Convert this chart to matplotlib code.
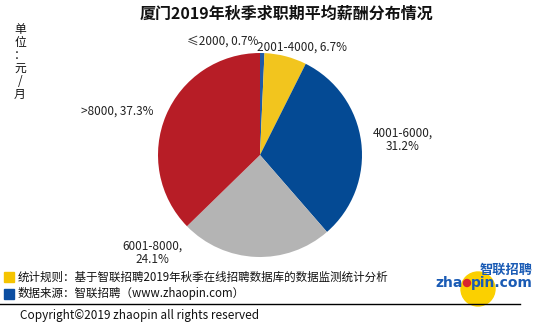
import matplotlib
matplotlib.use("Agg")
import matplotlib.pyplot as plt
from matplotlib.patches import Circle, Rectangle
from matplotlib.lines import Line2D

plt.rcParams["font.family"] = ["Noto Sans CJK SC", "DejaVu Sans"]

categories = ["≤2000", "2001-4000", "4001-6000", "6001-8000", ">8000"]
shares = [0.7, 6.7, 31.2, 24.1, 37.3]
colors = ["#1f5aa6", "#f2c51e", "#044a94", "#b4b4b4", "#b71d26"]
label_texts = ["≤2000, 0.7%", "2001-4000, 6.7%", "4001-6000,\n31.2%",
               "6001-8000,\n24.1%", ">8000, 37.3%"]
# label centres in pie radius units
label_pos = [(-0.37, 1.12), (0.41, 1.06), (1.40, 0.15), (-1.05, -0.96), (-1.40, 0.43)]

title = "厦门2019年秋季求职期平均薪酬分布情况"
note1 = "统计规则：基于智联招聘2019年秋季在线招聘数据库的数据监测统计分析"
note2 = "数据来源：智联招聘（www.zhaopin.com）"
copyright_text = "Copyright©2019 zhaopin all rights reserved"

W, H = 540, 336
fig = plt.figure(figsize=(W / 100, H / 100), dpi=100)

# pie: centre (260,155) px, radius 102 px
cx, cy, r = 260, 155, 102
ax = fig.add_axes([(cx - r) / W, (H - cy - r) / H, 2 * r / W, 2 * r / H])
ax.pie(shares, colors=colors, startangle=90, counterclock=False,
       wedgeprops=dict(linewidth=0))
ax.set_xlim(-1, 1)
ax.set_ylim(-1, 1)
ax.set_aspect("equal")
for txt, (x, y) in zip(label_texts, label_pos):
    ax.text(x, y, txt, ha="center", va="center", fontsize=8.5,
            color="#222222", linespacing=1.1)

# overlay axes in pixel coordinates
ov = fig.add_axes([0, 0, 1, 1])
ov.set_xlim(0, W)
ov.set_ylim(H, 0)
ov.axis("off")
ov.patch.set_alpha(0)

ov.text(286, 14, title, ha="center", va="center", fontsize=11.5,
        fontweight="bold", color="#111111")
ov.text(20, 62, "单\n位\n：\n元\n/\n月", ha="center", va="center",
        fontsize=8.5, linespacing=1.0, color="#111111")

ov.add_patch(Rectangle((4, 272), 10, 10, color="#f5c400"))
ov.add_patch(Rectangle((4, 289), 10, 10, color="#0b4ea2"))
ov.text(18, 277, note1, ha="left", va="center", fontsize=8.3, color="#111111")
ov.text(18, 294, note2, ha="left", va="center", fontsize=8.3, color="#111111")
ov.add_line(Line2D([0, 520], [303.5, 303.5], color="black", linewidth=1))
ov.text(20, 316, copyright_text, ha="left", va="center", fontsize=8.5,
        color="#111111")

# logo
ov.add_patch(Circle((478, 289), 17, color="#fbd000", zorder=1))
ov.add_patch(Circle((467, 283), 3.5, color="#d8262e", zorder=3))
ov.text(506, 270, "智联招聘", ha="center", va="center", fontsize=9.5,
        fontweight="bold", style="italic", color="#1a5bb5", zorder=3)
ov.text(463, 283, "zha", ha="right", va="center", fontsize=10,
        fontweight="bold", color="#1a5bb5", zorder=3, family=["DejaVu Sans"])
ov.text(471, 283, "pin.com", ha="left", va="center", fontsize=10,
        fontweight="bold", color="#1a5bb5", zorder=3, family=["DejaVu Sans"])

fig.savefig("out.png", dpi=100)
